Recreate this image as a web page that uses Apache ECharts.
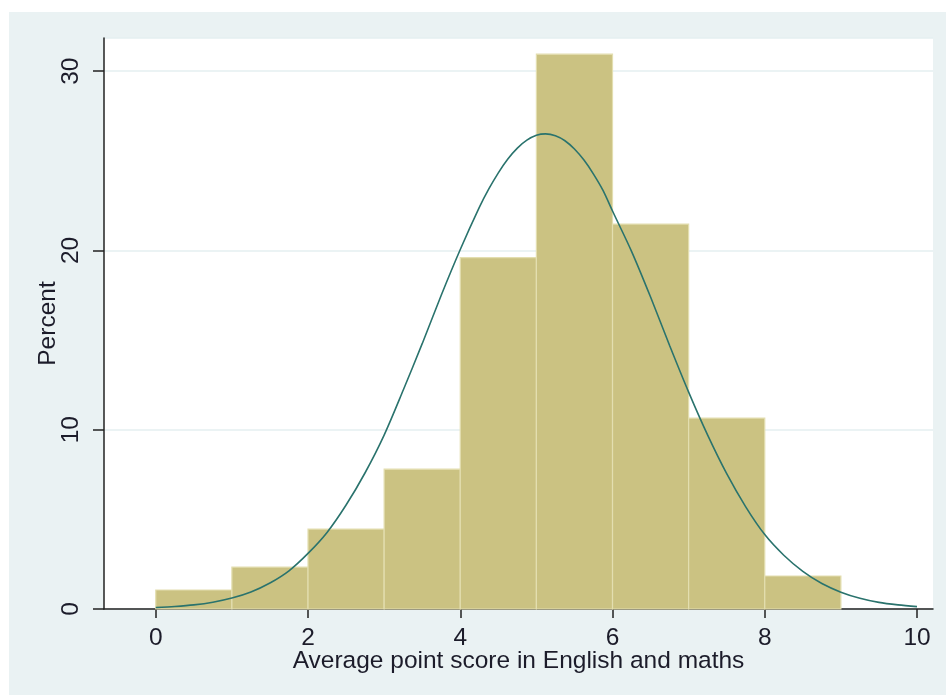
<!DOCTYPE html>
<html>
<head>
<meta charset="utf-8">
<script src="https://cdn.jsdelivr.net/npm/echarts@6/dist/echarts.min.js"></script>
<style>
  html, body { margin: 0; padding: 0; background: #fff; }
  #chart { width: 946px; height: 695px; }
</style>
</head>
<body>
<div id="chart"></div>
<script>
// histogram bins (score from, score to) and percent per bin
const binStart = [0, 1, 2, 3, 4, 5, 6, 7, 8]
const binEnd = [1, 2, 3, 4, 5, 6, 7, 8, 9]
const percent = [1.06, 2.34, 4.46, 7.8, 19.6, 30.95, 21.47, 10.65, 1.84]

// fitted normal curve
const curveX = [0, 0.25, 0.5, 0.75, 1, 1.25, 1.5, 1.75, 2, 2.25, 2.5, 2.75, 3, 3.25, 3.5, 3.75,
    4, 4.25, 4.375, 4.5, 4.625, 4.75, 4.875, 5, 5.12, 5.25, 5.375, 5.5, 5.625, 5.75, 5.875,
    6, 6.25, 6.5, 6.75, 7, 7.25, 7.5, 7.75,
    8, 8.25, 8.5, 8.75, 9, 9.25, 9.5, 9.75, 10]
const curveY = [0.08, 0.14, 0.23, 0.38, 0.61, 0.95, 1.45, 2.13, 3.1, 4.27, 5.8, 7.6, 9.7, 12.2, 14.8, 17.5,
    20.05, 22.4, 23.43, 24.33, 25.1, 25.71, 26.15, 26.42, 26.5, 26.4, 26.12, 25.66, 25.04, 24.26, 23.35,
    22.2, 19.95, 17.4, 14.7, 12.1, 9.7, 7.55, 5.7,
    4.15, 3.0, 2.1, 1.42, 0.94, 0.6, 0.37, 0.23, 0.13]

const xTicks = [0, 2, 4, 6, 8, 10]

const font = 'Liberation Sans, Arial, sans-serif'
const textColor = '#1c1c2a'

const chart = echarts.init(document.getElementById('chart'))

const bars = binStart.map((s, i) => [s, binEnd[i], percent[i]])
const curve = curveX.map((x, i) => [x, curveY[i]])

chart.setOption({
    animation: false,
    graphic: [{
        type: 'rect',
        z: -10,
        silent: true,
        shape: {x: 9, y: 12, width: 937, height: 683},
        style: {fill: '#eaf2f3'}
    }, {
        type: 'rect',
        z: -9,
        silent: true,
        shape: {x: 104, y: 38, width: 829, height: 571},
        style: {fill: '#ffffff'}
    }],
    grid: {left: 104, right: 13, top: 38, bottom: 86},
    xAxis: {
        type: 'value',
        min: -0.68,
        max: 10.21,
        name: 'Average point score in English and maths',
        nameLocation: 'middle',
        nameGap: 40,
        nameMoveOverlap: false,
        nameTextStyle: {fontFamily: font, fontSize: 24.5, color: textColor},
        axisLine: {show: true, onZero: false, lineStyle: {color: '#222', width: 1.5}},
        axisTick: {show: true, length: 9, lineStyle: {color: '#222', width: 1.5},
            customValues: xTicks},
        axisLabel: {fontFamily: font, fontSize: 24.5, color: textColor, margin: 17,
            customValues: xTicks},
        splitLine: {show: false}
    },
    yAxis: {
        type: 'value',
        min: 0,
        max: 31.85,
        interval: 10,
        name: 'Percent',
        nameLocation: 'middle',
        nameGap: 43,
        nameMoveOverlap: false,
        nameRotate: 90,
        nameTextStyle: {fontFamily: font, fontSize: 24.5, color: textColor},
        axisLine: {show: true, onZero: false, lineStyle: {color: '#222', width: 1.5}},
        axisTick: {show: true, length: 11, lineStyle: {color: '#222', width: 1.5}},
        axisLabel: {fontFamily: font, fontSize: 24.5, color: textColor, margin: 20, rotate: 90,
            showMaxLabel: false},
        splitLine: {show: true, lineStyle: {color: '#e4eff1', width: 1.5}}
    },
    series: [
        {
            type: 'custom',
            data: bars,
            encode: {x: [0, 1], y: 2},
            renderItem(params, api) {
                const top = api.coord([api.value(0), api.value(2)])
                const bottom = api.coord([api.value(1), 0])
                return {
                    type: 'rect',
                    shape: {x: top[0], y: top[1], width: bottom[0] - top[0], height: bottom[1] - top[1]},
                    style: {fill: '#cbc282', stroke: '#e3deb0', lineWidth: 1.2}
                }
            },
            z: 2
        },
        {
            type: 'line',
            data: curve,
            smooth: 0.3,
            symbol: 'none',
            lineStyle: {color: '#2a736d', width: 1.6},
            z: 3
        }
    ]
})
</script>
</body>
</html>
